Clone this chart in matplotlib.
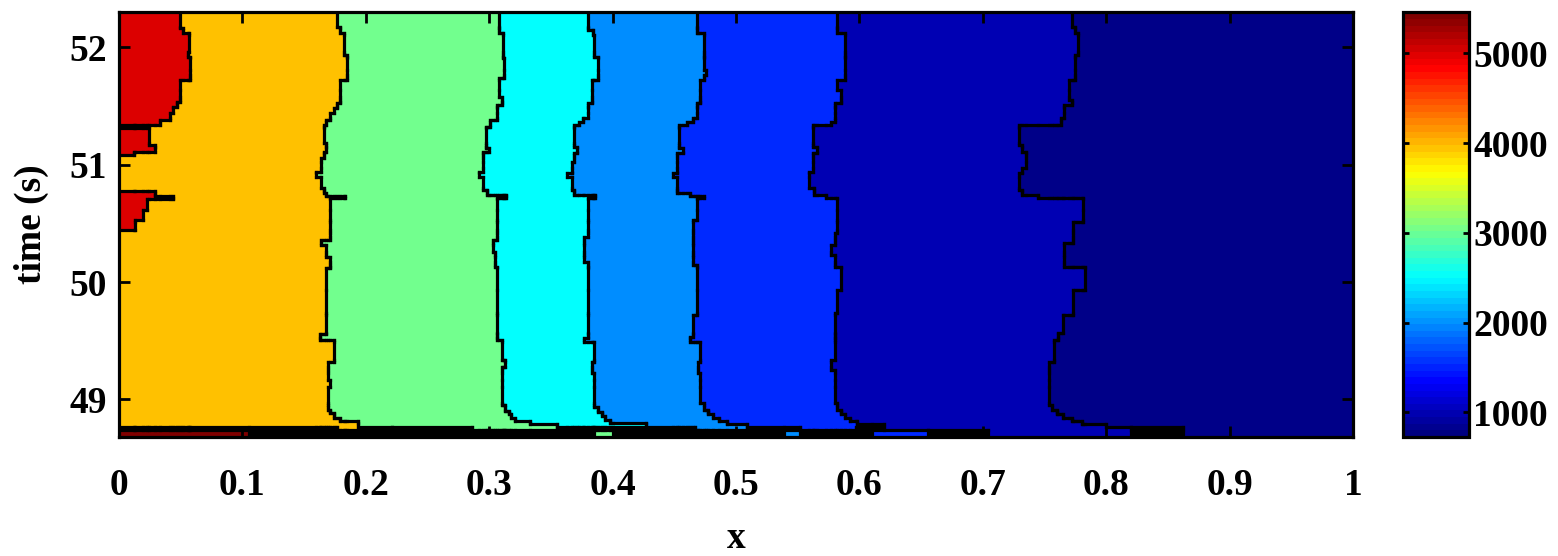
import numpy as np
import matplotlib
matplotlib.use('Agg')
import matplotlib.pyplot as plt
from matplotlib.collections import LineCollection
from matplotlib.colors import Normalize, LinearSegmentedColormap
from matplotlib.cm import ScalarMappable

plt.rcParams['font.family'] = ['Liberation Serif', 'DejaVu Serif']
plt.rcParams['font.weight'] = 'bold'
plt.rcParams['axes.labelweight'] = 'bold'
plt.rcParams['font.size'] = 27

# colour value of each band (0 = maroon strip at the start ... 8 = navy)
level_vals = [5460, 5024, 3980, 3021, 2501, 1968, 1502, 969, 772]

# band boundaries: time where each step starts (going down) and its x
b1_t = [52.30, 52.164, 52.121, 51.959, 51.917, 51.721, 51.533, 51.491, 51.440, 51.380,
        51.337, 51.312, 51.167, 51.107, 51.082, 50.775, 50.733, 50.707, 50.613, 50.528, 50.443]
b1_x = [0.0495, 0.052, 0.057, 0.056, 0.0575, 0.0495, 0.047, 0.044, 0.041, 0.033,
        0.0, 0.0245, 0.029, 0.012, 0.0, 0.029, 0.044, 0.0225, 0.0195, 0.013, 0.0]

b2_t = [52.30, 52.172, 52.121, 51.934, 51.721, 51.525, 51.482, 51.440, 51.380, 51.337,
        51.184, 51.107, 51.056, 50.937, 50.895, 50.801, 50.758, 50.733, 50.716, 50.358,
        50.315, 50.213, 50.119, 49.557, 49.506, 49.319, 49.165, 49.106, 48.910, 48.884,
        48.842, 48.816]
b2_x = [0.177, 0.179, 0.182, 0.185, 0.179, 0.177, 0.174, 0.171, 0.168, 0.166,
        0.168, 0.166, 0.164, 0.160, 0.164, 0.166, 0.168, 0.183, 0.171, 0.164,
        0.168, 0.171, 0.168, 0.163, 0.174, 0.169, 0.171, 0.169, 0.171, 0.174,
        0.179, 0.194]

b3_t = [52.30, 52.121, 51.908, 51.738, 51.576, 51.508, 51.380, 51.320, 51.142, 51.107,
        50.937, 50.895, 50.784, 50.741, 50.716, 50.358, 50.256, 50.128, 49.506, 49.336,
        49.276, 48.969, 48.952, 48.901, 48.876, 48.842, 48.816, 48.790]
b3_x = [0.308, 0.311, 0.312, 0.308, 0.310, 0.306, 0.301, 0.297, 0.300, 0.295,
        0.292, 0.295, 0.298, 0.314, 0.306, 0.303, 0.305, 0.306, 0.310, 0.313,
        0.310, 0.310, 0.313, 0.316, 0.318, 0.321, 0.333, 0.355]

b4_t = [52.30, 52.147, 52.104, 51.917, 51.721, 51.525, 51.397, 51.363, 51.337, 51.150,
        51.099, 51.022, 50.929, 50.895, 50.784, 50.741, 50.716, 50.383, 50.170, 49.523,
        49.489, 49.319, 49.225, 48.935, 48.893, 48.859, 48.825, 48.799]
b4_x = [0.380, 0.384, 0.385, 0.388, 0.383, 0.380, 0.376, 0.373, 0.369, 0.371,
        0.369, 0.367, 0.363, 0.367, 0.369, 0.386, 0.380, 0.377, 0.380, 0.377,
        0.385, 0.383, 0.385, 0.388, 0.391, 0.394, 0.398, 0.427]

b5_t = [52.30, 52.121, 51.806, 51.763, 51.721, 51.525, 51.397, 51.363, 51.337, 51.142,
        51.099, 50.929, 50.895, 50.758, 50.733, 50.716, 50.528, 50.145, 49.719, 49.531,
        49.489, 49.319, 49.225, 48.969, 48.910, 48.876, 48.842, 48.816, 48.790]
b5_x = [0.468, 0.474, 0.476, 0.474, 0.471, 0.468, 0.465, 0.460, 0.454, 0.457,
        0.452, 0.449, 0.452, 0.463, 0.474, 0.468, 0.465, 0.468, 0.465, 0.463,
        0.471, 0.469, 0.471, 0.474, 0.477, 0.481, 0.486, 0.493, 0.509]

b6_t = [52.30, 52.121, 51.721, 51.636, 51.525, 51.363, 51.337, 51.150, 51.099, 50.937,
        50.801, 50.741, 50.716, 50.418, 50.315, 50.230, 50.128, 49.932, 49.736, 49.336,
        49.251, 48.969, 48.910, 48.876, 48.842, 48.816, 48.790]
b6_x = [0.582, 0.588, 0.582, 0.585, 0.580, 0.577, 0.562, 0.566, 0.562, 0.559,
        0.563, 0.573, 0.582, 0.580, 0.577, 0.580, 0.585, 0.582, 0.580, 0.577,
        0.580, 0.582, 0.585, 0.588, 0.592, 0.598, 0.620]

b7_t = [52.30, 52.172, 52.121, 51.934, 51.721, 51.550, 51.508, 51.397, 51.337, 51.167,
        51.107, 50.971, 50.929, 50.784, 50.741, 50.716, 50.511, 50.332, 50.128, 49.932,
        49.719, 49.566, 49.506, 49.319, 48.952, 48.910, 48.876, 48.842, 48.816, 48.790]
b7_x = [0.772, 0.775, 0.777, 0.775, 0.770, 0.772, 0.766, 0.763, 0.729, 0.732,
        0.735, 0.732, 0.729, 0.732, 0.745, 0.781, 0.773, 0.766, 0.783, 0.773,
        0.765, 0.761, 0.758, 0.754, 0.756, 0.760, 0.765, 0.772, 0.780, 0.800]

bounds = [(b1_t, b1_x), (b2_t, b2_x), (b3_t, b3_x), (b4_t, b4_x),
          (b5_t, b5_x), (b6_t, b6_x), (b7_t, b7_x)]

# the two earliest rows (start-up), nan = covered by overlapping contour lines
t_top, t_body, t_r2, t_bot = 52.30, 48.765, 48.740, 48.68
nan = np.nan
r2_x = [0.0, 0.177, 0.221, 0.286, 0.355, 0.467, 0.509, 0.552, 0.597, 0.82, 0.862]
r2_lv = [nan, 2, nan, 3, nan, 5, nan, 6, 7, nan, 8]
r3_x = [0.0, 0.105, 0.385, 0.40, 0.539, 0.552, 0.61, 0.656, 0.704, 0.82, 0.862]
r3_lv = [0, nan, 3, nan, 5, nan, 6, nan, 7, nan, 8]

# build the grid
t_set = {t_top, t_body, t_r2, t_bot}
x_set = {0.0, 1.0}
for bt, bx in bounds:
    t_set.update(bt)
    x_set.update(bx)
x_set.update(r2_x)
x_set.update(r3_x)
t_edges = np.array(sorted(t_set))
x_edges = np.array(sorted(x_set))
tc = 0.5 * (t_edges[:-1] + t_edges[1:])
xc = 0.5 * (x_edges[:-1] + x_edges[1:])

lv = np.full((len(tc), len(xc)), -1, dtype=int)
for i, t in enumerate(tc):
    if t > t_body:
        region = np.zeros(len(xc), dtype=int)
        for bt, bx in bounds:
            j = np.sum(np.array(bt) >= t) - 1
            region += (xc > bx[j]).astype(int)
        lv[i] = region + 1
    else:
        sx, sl = (r2_x, r2_lv) if t > t_r2 else (r3_x, r3_lv)
        j = np.searchsorted(sx, xc, side='right') - 1
        vals = np.array(sl)[j]
        lv[i] = np.nan_to_num(vals, nan=-1).astype(int)

Z = np.where(lv >= 0, np.array(level_vals)[np.clip(lv, 0, None)], np.nan)
Z = np.ma.masked_invalid(Z)

# classic (gnuplot/matlab style) jet
jet_stops = [(0.0, (0, 0, 0.5)), (0.125, (0, 0, 1)), (0.375, (0, 1, 1)),
             (0.625, (1, 1, 0)), (0.875, (1, 0, 0)), (1.0, (0.5, 0, 0))]
cmap = LinearSegmentedColormap.from_list('gjet', jet_stops, N=256)
cmap.set_bad('black')
cmap_bar = LinearSegmentedColormap.from_list('gjet64', jet_stops, N=64)
norm = Normalize(725, 5460)

fig = plt.figure(figsize=(15.58, 5.56), dpi=100)
ax = fig.add_axes([0.0764, 0.214, 0.7920, 0.764])
ax.pcolormesh(x_edges, t_edges, Z, cmap=cmap, norm=norm, shading='flat')

# black lines wherever neighbouring cells differ
segs = []
dh = lv[:, :-1] != lv[:, 1:]
for r, c in zip(*np.nonzero(dh)):
    segs.append([(x_edges[c + 1], t_edges[r]), (x_edges[c + 1], t_edges[r + 1])])
dv = lv[:-1, :] != lv[1:, :]
for r, c in zip(*np.nonzero(dv)):
    segs.append([(x_edges[c], t_edges[r + 1]), (x_edges[c + 1], t_edges[r + 1])])
ax.add_collection(LineCollection(segs, colors='black', linewidths=2.3,
                                 capstyle='projecting'))

ax.set_xlim(0, 1)
ax.set_ylim(t_bot, t_top)
xt = np.arange(0, 11) / 10
ax.set_xticks(xt)
ax.set_xticklabels(['0'] + ['%.1f' % v for v in xt[1:-1]] + ['1'])
ax.set_yticks([49, 50, 51, 52])
ax.tick_params(direction='in', top=True, right=True, length=8, width=2)
ax.tick_params(axis='x', pad=22)
ax.tick_params(axis='y', pad=9)
for s in ax.spines.values():
    s.set_linewidth(2.3)
ax.set_xlabel('x', labelpad=13)
ax.set_ylabel('time (s)', labelpad=14)

cax = fig.add_axes([0.9005, 0.214, 0.0424, 0.764])
sm = ScalarMappable(norm=norm, cmap=cmap_bar)
cb = fig.colorbar(sm, cax=cax)
cb.set_ticks([1000, 2000, 3000, 4000, 5000])
cax.tick_params(direction='in', left=True, right=True, length=4, width=2, pad=3)
cb.outline.set_linewidth(2.3)

fig.savefig('out.png', dpi=100)
